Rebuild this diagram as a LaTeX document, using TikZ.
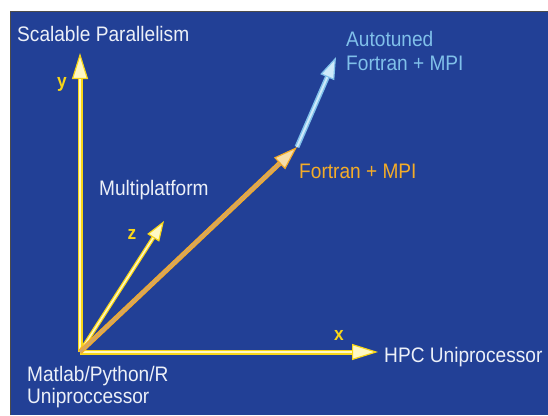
\documentclass[tikz,border=0pt]{standalone}
\usepackage{fontspec}
\setmainfont[FakeStretch=0.91]{Liberation Sans}
\usetikzlibrary{arrows.meta}
\definecolor{panelblue}{RGB}{34,64,150}
\definecolor{labelwhite}{RGB}{236,240,248}
\definecolor{axisyellow}{RGB}{248,214,24}
\definecolor{axislight}{RGB}{255,248,196}
\definecolor{mpiorange}{RGB}{244,172,40}
\definecolor{mpitan}{RGB}{214,166,96}
\definecolor{mpilight}{RGB}{246,222,170}
\definecolor{autoblue}{RGB}{128,192,234}
\definecolor{autolight}{RGB}{206,234,250}
\tikzset{
  lbl/.style={anchor=base west, inner sep=0pt, font=\fontsize{21}{25}\selectfont},
  axislbl/.style={anchor=base, inner sep=0pt, text=axisyellow, font=\fontsize{19}{22}\selectfont\bfseries},
  axisshaft/.style={line width=5pt, axisyellow,
    -{Triangle[length=26pt,width=16pt,fill=axislight,line width=1.2pt]}},
  axiscore/.style={line width=2pt, axislight, shorten >=26pt},
  zshaft/.style={line width=4pt, axisyellow,
    -{Triangle[length=20pt,width=14pt,fill=axislight,line width=1.2pt]}},
  zcore/.style={line width=1.5pt, axislight, shorten >=20pt},
  mpishaft/.style={line width=5pt, mpiorange,
    -{Triangle[length=24pt,width=16pt,fill=mpilight,line width=1.2pt]}},
  mpicore/.style={line width=2.5pt, mpitan, shorten >=24pt},
  autoshaft/.style={line width=5pt, autoblue,
    -{Triangle[length=22pt,width=15pt,fill=autolight,line width=1.2pt]}},
  autocore/.style={line width=2pt, autolight, shorten >=22pt},
}
\begin{document}
\begin{tikzpicture}[x=1pt,y=-1pt]
  % page and panel
  \useasboundingbox (0,0) rectangle (548,415);
  \fill[white] (0,0) rectangle (548,415);
  \fill[panelblue] (10,11) rectangle (548,415);
  \draw[black!70, line width=1pt] (10,415) -- (10,11) -- (548,11);

  % anchor points of the axes and vectors
  \coordinate (O) at (80,352);
  \coordinate (ytip) at (80,53);
  \coordinate (xtip) at (378,352);
  \coordinate (ztip) at (164,221);
  \coordinate (mpitip) at (297,147);
  \coordinate (autotip) at (336,57);

  % axes
  \draw[axisshaft] (O) -- (ytip);
  \draw[axiscore] (O) -- (ytip);
  \draw[axisshaft] (O) -- (xtip);
  \draw[axiscore] (O) -- (xtip);
  \draw[zshaft] (O) -- (ztip);
  \draw[zcore] (O) -- (ztip);

  % Fortran + MPI vector and its autotuned extension
  \draw[mpishaft] (O) -- (mpitip);
  \draw[mpicore] (O) -- (mpitip);
  \draw[autoshaft] (mpitip) -- (autotip);
  \draw[autocore] (mpitip) -- (autotip);

  % axis letters
  \node[axislbl] (ylbl) at (62,87) {y};
  \node[axislbl] (zlbl) at (132,239) {z};
  \node[axislbl] (xlbl) at (339,340) {x};

  % labels
  \node[lbl, text=labelwhite] (scal) at (17,41) {Scalable Parallelism};
  \node[lbl, text=labelwhite] (multi) at (99,195) {Multiplatform};
  \node[lbl, text=labelwhite] (hpc) at (384,362) {HPC Uniprocessor};
  \node[lbl, text=mpiorange] (mpi) at (299,178) {Fortran + MPI};
  \node[lbl, text=autoblue] (auto1) at (346,46) {Autotuned};
  \node[lbl, text=autoblue] (auto2) at (346,70) {Fortran + MPI};
  \node[lbl, text=labelwhite] (mat1) at (27,381) {Matlab/Python/R};
  \node[lbl, text=labelwhite] (mat2) at (27,403) {Uniproccessor};
\end{tikzpicture}
\end{document}
